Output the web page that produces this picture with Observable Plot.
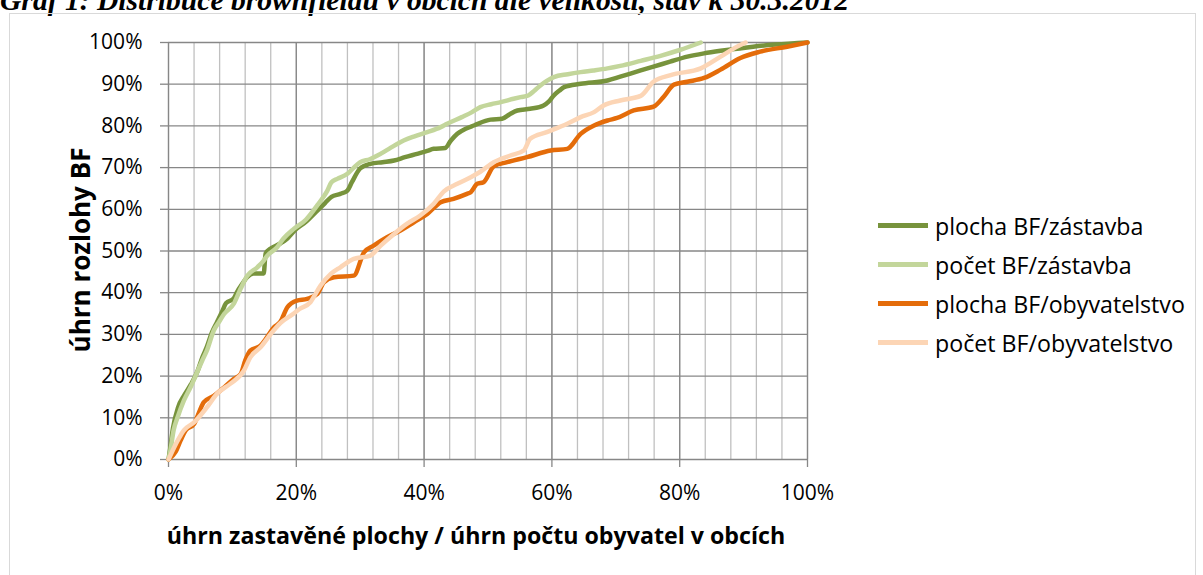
<!DOCTYPE html>
<html><head><meta charset="utf-8">
<script src="https://cdn.jsdelivr.net/npm/d3@7"></script>
<script src="https://cdn.jsdelivr.net/npm/@observablehq/plot@0.6"></script>
<style>
body{margin:0;background:#fff;}
#wrap{position:relative;width:1203px;height:575px;overflow:hidden;background:#fff;}
#title{position:absolute;left:0;top:-14px;font-family:"Liberation Serif";font-weight:bold;font-style:italic;font-size:29.6px;white-space:nowrap;line-height:1;color:#000;}
#frame{position:absolute;left:9px;top:13px;width:1187px;height:570px;border:1px solid #d9d9d9;box-sizing:border-box;}
#chart{position:absolute;left:0;top:0;}
#xtitle{position:absolute;left:476px;top:535px;transform:translate(-50%,-50%);font-family:"Open Sans";font-weight:bold;font-size:23.2px;white-space:nowrap;}
#ytitle{position:absolute;left:80px;top:250px;transform:translate(-50%,-50%) rotate(-90deg);font-family:"Open Sans";font-weight:bold;font-size:26px;white-space:nowrap;}
#legend{position:absolute;left:878px;top:206px;font-family:"Open Sans";font-size:23.2px;}
.row{display:flex;align-items:center;height:39px;white-space:nowrap;}
.sw{width:50px;height:5px;margin-right:7px;}
</style></head>
<body><div id="wrap">
<div id="title"></div>
<div id="frame"></div>
<div id="chart"></div>
<div id="xtitle"></div>
<div id="ytitle"></div>
<div id="legend"></div>
</div>
<script>
const titleText = "Graf 1: Distribuce brownfieldů v obcích dle velikosti, stav k 30.3.2012";
const xTitle = "úhrn zastavěné plochy / úhrn počtu obyvatel v obcích";
const yTitle = "úhrn rozlohy BF";
const seriesNames = ["plocha BF/zástavba", "počet BF/zástavba", "plocha BF/obyvatelstvo", "počet BF/obyvatelstvo"];
const seriesColors = ["#77933C", "#C3D69B", "#E46C0A", "#FCD5B5"];
const xTicks = [0, 20, 40, 60, 80, 100];
const yTicks = [0, 10, 20, 30, 40, 50, 60, 70, 80, 90, 100];
const xMinorGrid = [0,4,8,12,16,20,24,28,32,36,40,44,48,52,56,60,64,68,72,76,80,84,88,92,96,100];

// [x %, y %]
const plochaZastavba = [[0,0],[0.3,3],[0.7,7.5],[1.5,12.5],[2.5,15.5],[3.5,18],[4.5,21],[5.3,24.5],[6,27],[6.8,30.5],[7.6,33],[8.4,35.5],[9,37.5],[10.2,38.6],[10.7,40.1],[11.5,42],[12.3,43.7],[13.3,44.6],[14.9,44.6],[15.2,49.4],[16,50.6],[17.5,51.8],[18.6,53],[19.8,55],[21.5,57],[23.3,59.7],[24.5,61.5],[25.5,63],[26.9,63.7],[28,64.5],[28.7,66.5],[30,69.8],[31.6,70.9],[33.5,71.3],[35.3,71.7],[37,72.5],[38.9,73.3],[40.5,74],[41.5,74.5],[43.3,74.7],[44.2,76.5],[45.2,78.1],[46.5,79.3],[47.8,80.1],[50.4,81.5],[52.2,81.7],[53.4,82.8],[54.6,83.7],[56.6,84.1],[58.7,84.9],[59.5,85.8],[60.3,87.3],[61.2,88.5],[61.9,89.3],[64.5,90.1],[68.7,90.9],[70.7,91.8],[73.9,93.3],[75.9,94.2],[78.5,95.4],[81.2,96.6],[83.8,97.4],[86.4,98],[89,98.5],[91.5,99],[95,99.5],[100,100]];
const pocetZastavba = [[0,0],[0.3,2.2],[0.8,7],[1.4,10],[2.4,14.1],[3.5,17.5],[4.5,21],[5.3,23.8],[6,26.1],[7.1,31],[8,33.2],[8.7,34.9],[10.2,37.3],[11.3,41],[12.3,44],[13.9,46.1],[14.9,47.7],[15.4,48.8],[17,50.9],[18,53],[19.6,55.3],[21.5,57.5],[23.3,61],[24.8,64.3],[25.5,66.5],[26.4,67.3],[28,68.5],[29,70],[30,71.3],[31.5,72],[32.7,72.9],[34.5,74.5],[36.8,76.5],[38.5,77.5],[40.5,78.5],[42.6,79.7],[43.6,80.5],[45.9,82.1],[47.5,83.3],[48.8,84.5],[50.5,85.2],[52,85.7],[54,86.5],[55.1,86.9],[56.3,87.3],[57.3,88.5],[58.2,89.7],[59.2,90.8],[60.3,91.7],[62.5,92.4],[64.5,92.9],[66.5,93.3],[68.7,93.8],[70.7,94.4],[73.9,95.6],[77,96.8],[80,98.2],[83.3,100]];
const plochaObyvatelstvo = [[0,0],[1.1,1.8],[1.9,4.6],[2.7,7],[4,8.5],[4.7,11],[5.5,13.7],[7.1,15.3],[8.7,17.3],[10.2,19.3],[11.3,20.5],[12,23.7],[12.8,26.1],[14.4,27.3],[15.4,29.3],[16.5,31.7],[17.5,33],[18.6,36.5],[20.1,38.1],[21.7,38.5],[23.3,39.7],[24.3,42.5],[25.9,43.7],[29,44.1],[30.6,49.7],[32.1,51.3],[34.2,53.3],[36.3,54.9],[38.4,56.9],[40.5,58.9],[42.6,61.7],[44.6,62.5],[46.7,63.7],[47.3,64.1],[48.3,66.1],[49.3,66.5],[50.9,70.3],[53,71.3],[56.1,72.5],[59.8,74.1],[62.4,74.5],[64.5,78.1],[66.6,80.1],[68.7,81.3],[70.2,81.9],[72.8,83.7],[75.9,84.6],[77.5,87],[79.1,89.9],[81.2,90.6],[83.8,91.5],[86.4,93.5],[89.5,96.3],[92.6,97.8],[96.8,99],[100,100]];
const pocetObyvatelstvo = [[0,0],[0.3,1],[1.6,5],[2.4,7],[4,8.9],[6,12.5],[7.6,15.8],[9.7,18.2],[11.8,21.3],[12.8,24.5],[14.4,26.9],[16,30.1],[17.5,32.7],[19.6,35],[20.5,36.1],[22.2,37.7],[22.7,38.9],[23.8,41.7],[25.4,44.5],[26.9,46.1],[29,48.1],[31.6,48.9],[33.2,51.3],[35.3,54.1],[37.3,56.5],[39.4,58.5],[41.5,61.3],[43.1,64.3],[45.2,66.1],[47.3,67.7],[48.8,69],[50.9,71.3],[53.5,72.9],[55.6,74.1],[56.6,76.9],[59.2,78.5],[62.4,80.5],[64.5,82.1],[66.6,83.3],[68.1,84.9],[70.7,86.1],[73.9,87.2],[75.9,90.6],[78.6,92.2],[83.3,93.8],[86.4,96.6],[88.5,98.6],[90.3,100]];

const allSeries = [plochaZastavba, pocetZastavba, plochaObyvatelstvo, pocetObyvatelstvo];
const data = allSeries.flatMap((s, i) => s.map(([x, y]) => ({series: seriesNames[i], x, y})));

document.getElementById("title").textContent = titleText;
document.getElementById("xtitle").textContent = xTitle;
document.getElementById("ytitle").textContent = yTitle;

const legend = document.getElementById("legend");
seriesNames.forEach((n, i) => {
  const row = document.createElement("div");
  row.className = "row";
  const sw = document.createElement("div");
  sw.className = "sw";
  sw.style.background = seriesColors[i];
  const t = document.createElement("span");
  t.textContent = n;
  row.appendChild(sw); row.appendChild(t);
  legend.appendChild(row);
});

const gridDark = "#878787";
const chart = Plot.plot({
  width: 1203, height: 575,
  marginLeft: 168, marginRight: 396, marginTop: 42, marginBottom: 116,
  x: {domain: [0, 100]},
  y: {domain: [0, 100]},
  color: {domain: seriesNames, range: seriesColors},
  style: {fontFamily: "Open Sans", fontSize: "21px", color: "#000", background: "transparent", overflow: "visible"},
  marks: [
    Plot.gridX(xMinorGrid, {stroke: "#c0c0c0", strokeOpacity: 1, strokeWidth: 1.3}),
    Plot.gridX(xTicks, {stroke: gridDark, strokeOpacity: 1, strokeWidth: 1.3}),
    Plot.gridY(yTicks, {stroke: gridDark, strokeOpacity: 1, strokeWidth: 1.3}),
    Plot.axisX(xTicks, {tickSize: 8, tickPadding: 18, tickFormat: d => d + "%", stroke: gridDark, strokeOpacity: 1, strokeWidth: 1.3, fill: "#000", label: null, fontSize: 21}),
    Plot.axisY(yTicks, {tickSize: 8, tickPadding: 18, tickFormat: d => d + "%", stroke: gridDark, strokeOpacity: 1, strokeWidth: 1.3, fill: "#000", label: null, fontSize: 21}),
    Plot.line(data, {x: "x", y: "y", z: "series", stroke: "series", strokeWidth: 4.5, curve: "monotone-x", strokeLinejoin: "round", strokeLinecap: "round"})
  ]
});
document.getElementById("chart").appendChild(chart);
</script>
</body></html>
